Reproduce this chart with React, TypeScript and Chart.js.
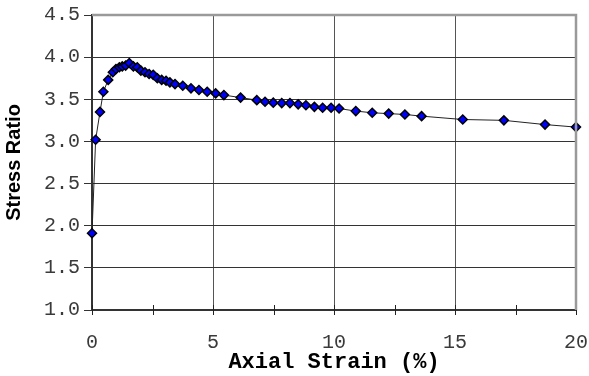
import React, { useEffect, useRef } from "react";
import { Chart, registerables } from "chart.js";

Chart.register(...registerables);

const strain = [0, 0.15, 0.33, 0.47, 0.67, 0.86, 0.99, 1.13, 1.25, 1.39, 1.54, 1.71, 1.87, 2.02, 2.19, 2.36, 2.53, 2.7, 2.88, 3.06, 3.22, 3.43, 3.75, 4.09, 4.42, 4.76, 5.11, 5.45, 6.14, 6.81, 7.15, 7.49, 7.84, 8.18, 8.52, 8.84, 9.19, 9.53, 9.88, 10.21, 10.9, 11.58, 12.26, 12.93, 13.62, 15.32, 17.02, 18.72, 20.0];
const stressRatio = [1.91, 3.02, 3.35, 3.59, 3.73, 3.82, 3.86, 3.88, 3.89, 3.9, 3.93, 3.89, 3.88, 3.84, 3.82, 3.8, 3.79, 3.75, 3.73, 3.72, 3.7, 3.68, 3.66, 3.63, 3.61, 3.59, 3.57, 3.55, 3.52, 3.49, 3.47, 3.46, 3.455, 3.455, 3.44, 3.43, 3.41, 3.4, 3.4, 3.39, 3.36, 3.34, 3.33, 3.32, 3.3, 3.26, 3.25, 3.2, 3.17];

const xMin = 0;
const xMax = 20;
const xMajorStep = 5;
const xMinorStep = 2.5;
const yMin = 1.0;
const yMax = 4.5;
const yStep = 0.5;

const xTitle = "Axial Strain (%)";
const yTitle = "Stress Ratio";

const framePlugin = {
  id: "frame",
  afterDraw(chart: any) {
    const { ctx, chartArea } = chart;
    const xs = chart.scales.x;
    ctx.save();
    ctx.strokeStyle = "#222";
    ctx.lineWidth = 1;
    for (let v = xMin; v <= xMax + 1e-9; v += xMinorStep) {
      const px = Math.round(xs.getPixelForValue(v)) + 0.5;
      ctx.beginPath();
      ctx.moveTo(px, chartArea.bottom - 5);
      ctx.lineTo(px, chartArea.bottom + 5);
      ctx.stroke();
    }
    ctx.strokeStyle = "#9a9a9a";
    ctx.lineWidth = 2.5;
    ctx.beginPath();
    ctx.moveTo(chartArea.left, chartArea.top);
    ctx.lineTo(chartArea.right, chartArea.top);
    ctx.lineTo(chartArea.right, chartArea.bottom);
    ctx.stroke();
    ctx.restore();
  },
};

export default function App() {
  const ref = useRef<HTMLCanvasElement | null>(null);
  useEffect(() => {
    if (!ref.current) return;
    const points = strain.map((x, i) => ({ x, y: stressRatio[i] }));
    const chart = new Chart(ref.current, {
      type: "scatter",
      data: {
        datasets: [
          {
            data: points,
            showLine: true,
            borderColor: "#222",
            borderWidth: 1,
            pointStyle: "rectRot",
            pointRadius: 4.5,
            pointBackgroundColor: "#0000ff",
            pointBorderColor: "#000",
            pointBorderWidth: 1.5,
            clip: false as any,
          },
        ],
      },
      options: {
        animation: false,
        responsive: false,
        devicePixelRatio: 1,
        layout: { padding: { top: 15, right: 13, left: 0, bottom: 0 } },
        plugins: { legend: { display: false }, tooltip: { enabled: false } },
        scales: {
          x: {
            type: "linear",
            min: xMin,
            max: xMax,
            afterFit: (s: any) => {
              s.height = 66;
              s.paddingLeft = 0;
              s.paddingRight = 0;
            },
            ticks: {
              stepSize: xMajorStep,
              color: "#3a3a3a",
              font: { family: "Liberation Mono", size: 20 },
              padding: 21,
              maxRotation: 0,
            },
            grid: {
              color: (c: any) =>
                c.tick && (c.tick.value === xMin || c.tick.value === xMax) ? "rgba(0,0,0,0)" : "#555",
              lineWidth: 1,
              drawTicks: false,
            },
            border: { display: true, color: "#333", width: 2 },
            title: {
              display: true,
              text: xTitle,
              color: "#000",
              font: { family: "Liberation Mono", size: 22, weight: "bold" },
              padding: { top: 0, bottom: 0 },
            },
          },
          y: {
            type: "linear",
            min: yMin,
            max: yMax,
            afterFit: (s: any) => {
              s.width = 92;
              s.paddingTop = 0;
              s.paddingBottom = 0;
            },
            ticks: {
              stepSize: yStep,
              color: "#3a3a3a",
              font: { family: "Liberation Mono", size: 20 },
              padding: 4,
              callback: (v: any) => Number(v).toFixed(1),
            },
            grid: {
              color: "#333",
              lineWidth: 1,
              tickLength: 8,
              tickColor: "#333",
            },
            border: { display: true, color: "#333", width: 2 },
            title: {
              display: true,
              text: yTitle,
              color: "#000",
              font: { family: "Liberation Sans", size: 20, weight: "bold" },
              padding: { top: 2, bottom: 0 },
            },
          },
        },
      },
      plugins: [framePlugin],
    });
    return () => chart.destroy();
  }, []);
  return (
    <div style={{ position: "absolute", left: 0, top: 0, width: 589, height: 376, background: "#fff" }}>
      <canvas ref={ref} width={589} height={376} style={{ width: 589, height: 376, display: "block" }} />
    </div>
  );
}
